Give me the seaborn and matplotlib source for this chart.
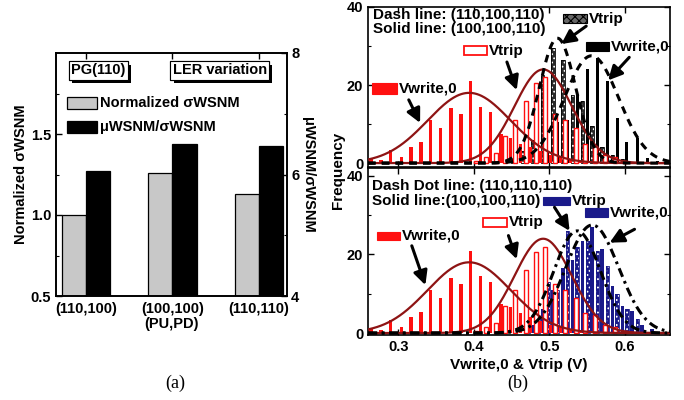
import numpy as np
import pandas as pd
import matplotlib
matplotlib.use("Agg")
import matplotlib.pyplot as plt
import matplotlib.patheffects as pe
from matplotlib.patches import Rectangle
from matplotlib.ticker import FixedLocator
import seaborn as sns

# ---------------- data: panel (a) ----------------
pairs = ["(110,100)", "(100,100)", "(110,110)"]
series_a = ["Normalized σWSNM", "μWSNM/σWSNM"]
norm_sigma_wsnm = [1.00, 1.26, 1.13]
mu_over_sigma_wsnm = [6.05, 6.50, 6.47]

# ---------------- data: panel (b) ----------------
# (100,100,110) red histograms (both sub-panels)
red_write_v = [0.264, 0.277, 0.290, 0.304, 0.317, 0.330, 0.343, 0.356, 0.370, 0.383, 0.396,
               0.409, 0.422, 0.436, 0.449, 0.462, 0.475, 0.488, 0.502, 0.515, 0.528, 0.541, 0.554]
red_write_n = [1.0, 0.8, 3.3, 1.5, 4.0, 5.3, 11.0, 9.0, 14.0, 12.5, 21.0,
               14.5, 13.0, 7.5, 6.5, 5.0, 4.0, 3.0, 2.0, 1.5, 1.0, 0.5, 0.5]
red_trip_v = [0.403, 0.416, 0.429, 0.442, 0.455, 0.469, 0.482, 0.495, 0.508, 0.521, 0.535,
              0.548, 0.561, 0.574, 0.587, 0.600]
red_trip_n = [0.5, 1.5, 2.5, 7.0, 11.0, 16.0, 20.5, 22.0, 12.5, 11.0, 9.0,
              5.0, 4.5, 2.0, 1.5, 0.5]
# (110,100,110) black histograms (top)
blk_trip_v = [0.452, 0.465, 0.478, 0.491, 0.505, 0.518, 0.531, 0.544, 0.557, 0.570, 0.584, 0.597]
blk_trip_n = [1.0, 3.0, 6.0, 22.5, 29.5, 26.5, 17.5, 16.0, 9.5, 4.0, 2.0, 1.0]
blk_write_v = [0.485, 0.498, 0.511, 0.524, 0.537, 0.551, 0.564, 0.577, 0.590, 0.603, 0.617,
               0.630, 0.643, 0.656]
blk_write_n = [1.0, 3.0, 10.5, 11.0, 17.5, 24.0, 27.0, 21.0, 11.5, 5.5, 6.5, 1.2, 0.5, 0.3]
# (110,110,110) blue histograms (bottom)
blu_trip_v = [0.472, 0.485, 0.498, 0.511, 0.524, 0.537, 0.551, 0.564, 0.577, 0.590, 0.603, 0.617]
blu_trip_n = [1.5, 4.0, 13.0, 11.0, 26.0, 22.0, 23.5, 21.0, 17.0, 10.0, 6.0, 3.5]
blu_write_v = [0.478, 0.491, 0.505, 0.518, 0.531, 0.544, 0.557, 0.570, 0.584, 0.597, 0.610,
               0.623, 0.636]
blu_write_n = [2.0, 6.0, 11.0, 16.5, 18.5, 23.5, 27.0, 21.5, 12.0, 7.0, 5.5, 2.0, 1.0]

# Gaussian fits: (mean V, sigma V, peak count)
fit_red_write = (0.394, 0.055, 18.0)
fit_red_trip = (0.492, 0.038, 24.0)
fit_dash_trip = (0.511, 0.024, 32.0)
fit_dash_write = (0.556, 0.036, 27.5)
fit_dd_trip = (0.537, 0.031, 26.0)
fit_dd_write = (0.557, 0.035, 27.5)

# ---------------- style ----------------
sns.set_theme(style="ticks")
plt.rcParams.update({
    "font.weight": "bold", "axes.labelweight": "bold",
    "xtick.direction": "in", "ytick.direction": "in",
    "xtick.major.size": 4, "ytick.major.size": 4,
    "xtick.minor.size": 2, "ytick.minor.size": 2,
    "xtick.major.width": 1.0, "ytick.major.width": 1.0,
    "xtick.minor.width": 0.8, "ytick.minor.width": 0.8,
    "axes.linewidth": 1.2, "axes.edgecolor": "black",
    "xtick.color": "black", "ytick.color": "black",
    "text.color": "black", "axes.labelcolor": "black",
    "hatch.linewidth": 0.8,
})
plt.rcParams["font.family"] = ["Liberation Sans", "DejaVu Sans"]

FS = 10.5
W, H = 684, 400
fig = plt.figure(figsize=(W / 100, H / 100), dpi=100)


def px_axes(x0, y0, x1, y1):
    return fig.add_axes([x0 / W, 1 - y1 / H, (x1 - x0) / W, (y1 - y0) / H])


# ================= panel (a) =================
axA = px_axes(56, 53, 287, 296)
df_a = pd.DataFrame({"pair": pairs * 2,
                     "series": [series_a[0]] * 3 + [series_a[1]] * 3,
                     "value": norm_sigma_wsnm + mu_over_sigma_wsnm})
pal = {series_a[0]: "#c8c8c8", series_a[1]: "#000000"}
sns.barplot(data=df_a[df_a.series == series_a[0]], x="pair", y="value", hue="series",
            hue_order=series_a, order=pairs, palette=pal, width=0.56, dodge=True,
            errorbar=None, edgecolor="black", linewidth=0.9, legend=False, ax=axA)
axA2 = axA.twinx()
sns.barplot(data=df_a[df_a.series == series_a[1]], x="pair", y="value", hue="series",
            hue_order=series_a, order=pairs, palette=pal, width=0.56, dodge=True,
            errorbar=None, edgecolor="black", linewidth=0.9, legend=False, ax=axA2)
axA.set_xlim(-0.347, 2.324)
axA.set_ylim(0.5, 2.0)
axA2.set_ylim(4, 8)
axA.yaxis.set_major_locator(FixedLocator([0.5, 1.0, 1.5]))
axA.yaxis.set_minor_locator(FixedLocator([0.75, 1.25, 1.75]))
axA2.yaxis.set_major_locator(FixedLocator([4, 6, 8]))
axA2.yaxis.set_minor_locator(FixedLocator([5, 7]))
axA.tick_params(axis="x", top=True, labelsize=FS, pad=4)
axA.tick_params(axis="y", which="both", left=True, right=False, labelsize=FS)
axA2.tick_params(axis="y", which="both", right=True, labelsize=FS, pad=3)
axA.set_xticks([0, 1, 2])
axA.set_xticklabels(pairs, fontsize=FS, fontweight="bold")
axA.set_xlabel("(PU,PD)", fontsize=FS, labelpad=1)
axA.set_ylabel("Normalized σWSNM", fontsize=FS, labelpad=2)
axA2.set_ylabel("μWSNM/σWSNM", fontsize=FS, rotation=270, labelpad=11)
for a in (axA, axA2):
    for s in a.spines.values():
        s.set_linewidth(1.2)

# legend & tags in (a)
for yc, col, lab in [(0.794, "#c8c8c8", series_a[0]), (0.695, "#000000", series_a[1])]:
    axA2.add_patch(Rectangle((0.048, yc - 0.026), 0.13, 0.052, transform=axA2.transAxes,
                             facecolor=col, edgecolor="black", lw=0.9, zorder=5))
    axA2.text(0.19, yc, lab, transform=axA2.transAxes, fontsize=FS, va="center", ha="left",
              zorder=5)
for xt, txt in [(0.065, "PG(110)"), (0.505, "LER variation")]:
    t = axA2.text(xt, 0.928, txt, transform=axA2.transAxes, fontsize=FS, va="center",
                  ha="left", zorder=6,
                  bbox=dict(boxstyle="square,pad=0.15", facecolor="white", edgecolor="black",
                            lw=0.8))
    t.get_bbox_patch().set_path_effects([
        pe.withSimplePatchShadow(offset=(2.5, -2.5), shadow_rgbFace="black", alpha=1.0),
        pe.Normal()])

# ================= panel (b) =================
axT = px_axes(368, 7, 670, 167)
axB = px_axes(368, 168, 670, 335)

v_grid = np.linspace(0.26, 0.66, 400)


def gauss(p):
    mu, sd, pk = p
    return pk * np.exp(-0.5 * ((v_grid - mu) / sd) ** 2)


RED = "#ff1010"
DRED = "#8e1414"
NAVY = "#1a1a8a"


def hatched_bars(ax, v, n, face, outline):
    ax.bar(v, n, width=0.0048, color=face, edgecolor="white", hatch="....", linewidth=0,
           zorder=1)
    ax.bar(v, n, width=0.0048, fill=False, edgecolor=outline, linewidth=0.6, zorder=1.1)


def red_bars(ax):
    ax.bar(red_write_v, red_write_n, width=0.0045, color=RED, linewidth=0, zorder=2)
    ax.bar(red_trip_v, red_trip_n, width=0.0052, facecolor="white", edgecolor=RED,
           linewidth=1.0, zorder=2.1)


def legend_item(ax, x0, x1, yc, h, face, edge, label, hatch=None, lw=0.8):
    r = Rectangle((x0, yc - h / 2), x1 - x0, h, transform=ax.transAxes, facecolor=face,
                  edgecolor=edge, lw=lw, zorder=6, hatch=hatch)
    ax.add_patch(r)
    ax.text(x1 + 0.006, yc, label, transform=ax.transAxes, fontsize=FS + 0.5, va="center",
            ha="left", zorder=6)


def arrow(ax, start, end):
    ax.annotate("", xy=end, xytext=start,
                arrowprops=dict(arrowstyle="-|>,head_length=0.7,head_width=0.35",
                                color="black", lw=2.2, shrinkA=0, shrinkB=0), zorder=7)


DASH = (0, (2.5, 2.0))
DASHDOT = (0, (3.0, 1.5, 0.9, 1.5))

# ---- top sub-panel
hatched_bars(axT, blk_trip_v, blk_trip_n, "#2a2a2a", "black")
axT.bar(blk_write_v, blk_write_n, width=0.004, color="black", linewidth=0, zorder=1.2)
red_bars(axT)
sns.lineplot(x=v_grid, y=gauss(fit_red_write), ax=axT, color=DRED, lw=1.6, zorder=3)
sns.lineplot(x=v_grid, y=gauss(fit_red_trip), ax=axT, color=DRED, lw=1.6, zorder=3)
sns.lineplot(x=v_grid, y=gauss(fit_dash_trip), ax=axT, color="black", lw=2.2,
             linestyle=DASH, zorder=3)
sns.lineplot(x=v_grid, y=gauss(fit_dash_write), ax=axT, color="black", lw=2.2,
             linestyle=DASH, zorder=3)

axT.text(0.017, 0.95, "Dash line: (110,100,110)", transform=axT.transAxes, fontsize=FS + 0.5,
         va="center", ha="left", zorder=6)
axT.text(0.017, 0.8625, "Solid line: (100,100,110)", transform=axT.transAxes,
         fontsize=FS + 0.5, va="center", ha="left", zorder=6)
legend_item(axT, 0.645, 0.724, 0.927, 0.06, "#666666", "black", "Vtrip", hatch="xxxx")
legend_item(axT, 0.318, 0.393, 0.726, 0.056, "white", RED, "Vtrip", lw=1.3)
legend_item(axT, 0.722, 0.798, 0.752, 0.06, "black", "black", "Vwrite,0")
legend_item(axT, 0.012, 0.095, 0.49, 0.066, RED, RED, "Vwrite,0")
arrow(axT, (0.549, 35.1), (0.516, 30.5))
arrow(axT, (0.444, 25.9), (0.457, 18.7))
arrow(axT, (0.606, 27.1), (0.578, 21.2))
arrow(axT, (0.314, 16.2), (0.329, 10.3))

# ---- bottom sub-panel
hatched_bars(axB, blu_trip_v, blu_trip_n, NAVY, NAVY)
axB.bar(blu_write_v, blu_write_n, width=0.0048, color=NAVY, linewidth=0, zorder=1.2)
red_bars(axB)
sns.lineplot(x=v_grid, y=gauss(fit_red_write), ax=axB, color=DRED, lw=1.6, zorder=3)
sns.lineplot(x=v_grid, y=gauss(fit_red_trip), ax=axB, color=DRED, lw=1.6, zorder=3)
sns.lineplot(x=v_grid, y=gauss(fit_dd_trip), ax=axB, color="black", lw=2.2,
             linestyle=DASHDOT, zorder=3)
sns.lineplot(x=v_grid, y=gauss(fit_dd_write), ax=axB, color="black", lw=2.2,
             linestyle=DASHDOT, zorder=3)

axB.text(0.012, 0.895, "Dash Dot line: (110,110,110)", transform=axB.transAxes,
         fontsize=FS + 0.5, va="center", ha="left", zorder=6)
axB.text(0.012, 0.8, "Solid line:(100,100,110)", transform=axB.transAxes,
         fontsize=FS + 0.5, va="center", ha="left", zorder=6)
legend_item(axB, 0.579, 0.669, 0.803, 0.05, NAVY, NAVY, "Vtrip", hatch="xxxx")
legend_item(axB, 0.719, 0.795, 0.734, 0.052, NAVY, NAVY, "Vwrite,0")
legend_item(axB, 0.381, 0.46, 0.674, 0.05, "white", RED, "Vtrip", lw=1.3)
legend_item(axB, 0.029, 0.106, 0.594, 0.05, RED, RED, "Vwrite,0")
arrow(axB, (0.507, 32.0), (0.527, 26.0))
arrow(axB, (0.446, 24.8), (0.457, 18.8))
arrow(axB, (0.613, 26.4), (0.580, 23.0))
arrow(axB, (0.318, 22.2), (0.336, 12.2))

for ax, ylo, yhi in [(axT, -1.0, 40), (axB, -0.5, 42)]:
    ax.set_xlim(0.26, 0.66)
    ax.set_ylim(ylo, yhi)
    ax.xaxis.set_major_locator(FixedLocator([0.3, 0.4, 0.5, 0.6]))
    ax.yaxis.set_major_locator(FixedLocator([0, 20, 40]))
    ax.yaxis.set_minor_locator(FixedLocator([10, 30]))
    ax.tick_params(axis="both", which="both", top=True, right=True, labelsize=FS)
    ax.set_ylabel("")
    for s in ax.spines.values():
        s.set_linewidth(1.2)
axT.tick_params(axis="x", labelbottom=False)
axB.set_xticklabels(["0.3", "0.4", "0.5", "0.6"])
axB.set_xlabel("Vwrite,0 & Vtrip (V)", fontsize=FS + 0.5, labelpad=3)

fig.text(338 / W, 1 - 170 / H, "Frequency", rotation=90, ha="center", va="center",
         fontsize=FS + 0.5, fontweight="bold")
fig.text(175 / W, 1 - 383 / H, "(a)", ha="center", va="center", fontsize=13,
         family="Liberation Serif", fontweight="normal")
fig.text(518 / W, 1 - 383 / H, "(b)", ha="center", va="center", fontsize=13,
         family="Liberation Serif", fontweight="normal")

fig.savefig("out.png", dpi=100, facecolor="white")
